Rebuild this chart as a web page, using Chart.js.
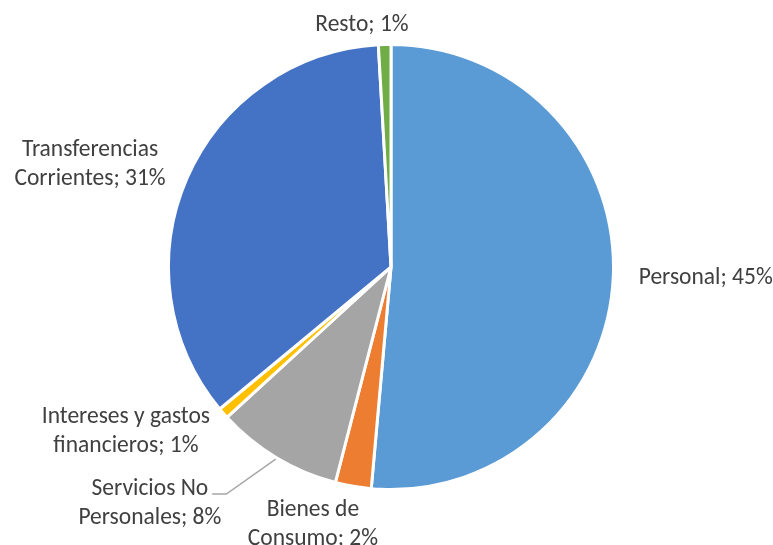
<!DOCTYPE html>
<html>
<head>
<meta charset="utf-8">
<script src="https://cdn.jsdelivr.net/npm/chart.js@4.4.1/dist/chart.umd.min.js"></script>
<style>
    html, body { margin: 0; padding: 0; background: #fff; }
    #wrap { width: 773px; height: 545px; position: relative; }
</style>
</head>
<body>
<div id="wrap"><canvas id="pieChart"></canvas></div>
<script>
// Categories (line breaks as in the original labels)
const categories = [
    'Personal',
    'Bienes de\nConsumo',
    'Servicios No\nPersonales',
    'Intereses y gastos\nfinancieros',
    'Transferencias\nCorrientes',
    'Resto'
];

// Share of total spending (%), the rest of the total is not drawn
const values = [45.4, 2.3, 8.1, 0.7, 31.0, 0.8];

// Slice colours
const sliceColors = ['#5B9BD5', '#ED7D31', '#A5A5A5', '#FFC000', '#4472C4', '#70AD47'];

// Label nudges from the default outside anchor (dx, dy) and alignment
const labelLayout = [
    { align: 'left',   dx: 0,   dy: 0 },
    { align: 'center', dx: -36, dy: 13 },
    { align: 'right',  dx: -42, dy: 24, leader: true },
    { align: 'right',  dx: 6,   dy: 2 },
    { align: 'right',  dx: 2,   dy: -3 },
    { align: 'center', dx: -22, dy: 6 }
];

const FONT = '23.5px Carlito, Lato, sans-serif';
const LINE_H = 29;

// Outside labels drawn after the pie
const outsideLabels = {
    id: 'outsideLabels',
    afterDraw(chart) {
        const ctx = chart.ctx;
        const meta = chart.getDatasetMeta(0);
        ctx.save();
        ctx.font = FONT;
        ctx.fillStyle = '#404040';
        ctx.textBaseline = 'middle';
        meta.data.forEach((arc, i) => {
            const p = arc.getProps(['x', 'y', 'startAngle', 'endAngle', 'outerRadius'], true);
            const mid = (p.startAngle + p.endAngle) / 2;
            const cx = Math.cos(mid), cy = Math.sin(mid);
            const lay = labelLayout[i];
            const r = p.outerRadius + 1.5;
            const ax = p.x + (r + 24) * cx + lay.dx;
            const ay = p.y + (r + 24) * cy + lay.dy;

            const lines = (categories[i] + '; ' + Math.round(values[i]) + '%').split('\n');
            const widths = lines.map(l => ctx.measureText(l).width);
            const blockW = Math.max(...widths);
            let left;
            if (lay.align === 'left') left = ax;
            else if (lay.align === 'right') left = ax - blockW;
            else left = ax - blockW / 2;
            const top = ay - lines.length * LINE_H / 2;

            ctx.textAlign = 'center';
            lines.forEach((l, k) => {
                ctx.fillText(l, left + blockW / 2, top + LINE_H * (k + 0.5));
            });

            if (lay.leader) {
                const y1 = top + LINE_H * 0.5 + 5;
                const firstRight = left + blockW / 2 + widths[0] / 2;
                ctx.strokeStyle = '#A6A6A6';
                ctx.lineWidth = 1.5;
                ctx.beginPath();
                ctx.moveTo(p.x + r * cx, p.y + r * cy);
                ctx.lineTo(left + blockW + 5, y1);
                ctx.lineTo(firstRight + 4, y1);
                ctx.stroke();
            }
        });
        ctx.restore();
    }
};

new Chart(document.getElementById('pieChart'), {
    type: 'pie',
    data: {
        labels: categories,
        datasets: [{
            data: values,
            backgroundColor: sliceColors,
            borderColor: '#ffffff',
            borderWidth: 3
        }]
    },
    options: {
        responsive: true,
        maintainAspectRatio: false,
        animation: false,
        layout: {
            padding: { top: 43, bottom: 54, left: 167, right: 158 }
        },
        plugins: {
            legend: { display: false },
            tooltip: { enabled: false }
        }
    },
    plugins: [outsideLabels]
});
</script>
</body>
</html>
